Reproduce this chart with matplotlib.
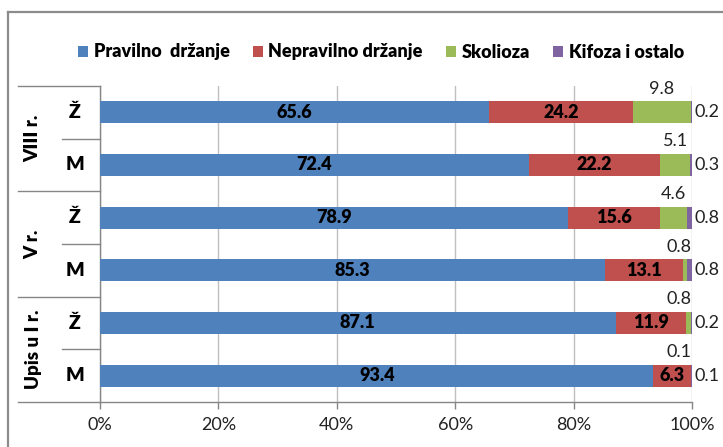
import matplotlib
matplotlib.use("Agg")
import matplotlib.pyplot as plt
import numpy as np
from matplotlib.transforms import blended_transform_factory
from matplotlib.lines import Line2D
from matplotlib.patches import Patch

# Posture findings by school year and sex (rows listed top to bottom)
groups = ["VIII r.", "V r.", "Upis u I r."]
sexes = ["Ž", "M", "Ž", "M", "Ž", "M"]
series = ["Pravilno  držanje", "Nepravilno držanje", "Skolioza", "Kifoza i ostalo"]
pravilno = [65.6, 72.4, 78.9, 85.3, 87.1, 93.4]
nepravilno = [24.2, 22.2, 15.6, 13.1, 11.9, 6.3]
skolioza = [9.8, 5.1, 4.6, 0.8, 0.8, 0.1]
kifoza = [0.2, 0.3, 0.8, 0.8, 0.2, 0.1]
x_ticks = [0, 20, 40, 60, 80, 100]
x_tick_labels = ["0%", "20%", "40%", "60%", "80%", "100%"]
colors = ["#4F81BD", "#C0504D", "#9BBB59", "#8064A2"]

plt.rcParams['font.family'] = ['Lato', 'DejaVu Sans']
BOLD = "heavy"

W, H = 723, 447
fig = plt.figure(figsize=(W / 100, H / 100), dpi=100)
fig.patch.set_facecolor("white")


def fx(px):
    return px / W


def fy(py):
    return 1 - py / H


ax = fig.add_axes([fx(100), fy(402), fx(692) - fx(100), fy(86) - fy(402)])

data = np.array([pravilno, nepravilno, skolioza, kifoza])
shares = data / data.sum(axis=0) * 100
n = data.shape[1]
ypos = np.arange(n)[::-1]
bar_h = 0.42

left = np.zeros(n)
for i in range(4):
    ax.barh(ypos, shares[i], left=left, height=bar_h, color=colors[i],
            label=series[i], zorder=3)
    for j in range(n):
        val = data[i, j]
        center = left[j] + shares[i, j] / 2
        if i < 2:
            ax.text(center, ypos[j], f"{val:.1f}", ha="center", va="center",
                    fontsize=13, fontweight=BOLD, color="black", zorder=4)
        elif i == 2:
            ax.text(min(center, 97.8), ypos[j] + 0.45, f"{val:.1f}",
                    ha="center", va="center", fontsize=13, color="#222222",
                    zorder=4)
        else:
            ax.text(100.4, ypos[j], f"{val:.1f}", ha="left", va="center",
                    fontsize=13, color="#222222", zorder=4, clip_on=False)
    left += shares[i]

ax.set_xlim(0, 100)
ax.set_ylim(-0.5, n - 0.5)
ax.set_xticks(x_ticks)
ax.set_xticklabels(x_tick_labels, fontsize=13, color="#222222")
ax.set_yticks([])
ax.grid(axis="x", color="#BFBFBF", linewidth=1, zorder=0)
ax.set_axisbelow(True)
for s in ("top", "right"):
    ax.spines[s].set_visible(False)
for s in ("left", "bottom"):
    ax.spines[s].set_color("#868686")
    ax.spines[s].set_linewidth(1)
ax.tick_params(axis="x", length=5, width=1, color="#868686", pad=6)

# multi-level category axis on the left
tr = blended_transform_factory(ax.transAxes, ax.transData)
x_outer = (18 - 100) / 592
x_inner = (62 - 100) / 592
line_kw = dict(color="#868686", linewidth=1, transform=tr, clip_on=False)
for b in [n - 0.5, 3.5, 1.5, -0.5]:
    ax.add_line(Line2D([x_outer, 0], [b, b], **line_kw))
for b in [4.5, 2.5, 0.5]:
    ax.add_line(Line2D([x_inner, 0], [b, b], **line_kw))

for j in range(n):
    ax.text((75 - 100) / 592, ypos[j], sexes[j], transform=tr, ha="center",
            va="center", fontsize=14, fontweight=BOLD, clip_on=False)
for g, name in enumerate(groups):
    yc = ypos[2 * g] - 0.5
    ax.text((33 - 100) / 592, yc, name, transform=tr, ha="center",
            va="center", rotation=90, fontsize=13.5, fontweight=BOLD,
            clip_on=False)

# legend
handles = [Patch(facecolor=c, edgecolor="none") for c in colors]
fig.legend(handles, series, loc="center", bbox_to_anchor=(fx(381), fy(52)),
           ncol=4, frameon=False, handlelength=0.55, handleheight=0.55,
           handletextpad=0.3, columnspacing=1.3,
           prop={"weight": BOLD, "size": 13})

# chart frame
frame_kw = dict(color="#8C8C8C", linewidth=1.6, transform=fig.transFigure)
fig.add_artist(Line2D([fx(8), fx(8)], [0, fy(12)], **frame_kw))
fig.add_artist(Line2D([fx(8), 1], [fy(12), fy(12)], **frame_kw))

fig.savefig("out.png", dpi=100)
